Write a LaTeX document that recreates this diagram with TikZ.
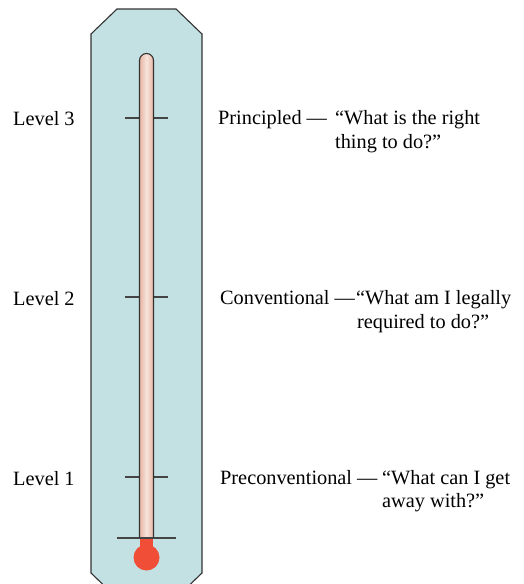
\documentclass[tikz,border=0pt]{standalone}
\usepackage{fontspec}
\setmainfont{Liberation Serif}
\definecolor{casebg}{HTML}{C3E0E3}
\definecolor{caseline}{HTML}{333333}
\definecolor{tubeedge}{HTML}{E8B5A2}
\definecolor{tubemid}{HTML}{F7E4DC}
\definecolor{bulbred}{HTML}{F04E37}
\definecolor{tickgray}{HTML}{444444}
\tikzset{
  lbl/.style={anchor=base west, inner sep=0pt, font=\fontsize{20.3}{24}\selectfont, text=black},
  tickline/.style={draw=tickgray, line width=1.2pt},
}
\begin{document}
\begin{tikzpicture}[x=1pt,y=-1pt]
\useasboundingbox (0,0) rectangle (523,584);
\begin{scope}
\clip (0,0) rectangle (523,584);
% case
\draw[fill=casebg, draw=caseline, line width=1.1pt]
  (117,9) -- (176,9) -- (202,34) -- (202,573) -- (176,598) -- (117,598) -- (91,573) -- (91,34) -- cycle;
\end{scope}
% ticks
\draw[tickline] (125,118) -- (168,118);
\draw[tickline] (125,297) -- (168,297);
\draw[tickline] (125,477) -- (168,477);
% red bulb
\fill[bulbred] (140,536) rectangle (153,550);
\fill[bulbred] (146.5,557.5) circle (13);
% tube
\shade[left color=tubeedge, right color=tubeedge, middle color=tubemid]
  (139.5,538) -- (139.5,60.5) arc[start angle=180, end angle=0, x radius=7, y radius=-7] -- (153.5,538) -- cycle;
\draw[draw=caseline, line width=1.1pt]
  (139.5,538) -- (139.5,60.5) arc[start angle=180, end angle=0, x radius=7, y radius=-7] -- (153.5,538);
% bottom line
\draw[tickline] (117,538) -- (176,538);
% level labels
\node[lbl] (l3) at (13,125) {Level 3};
\node[lbl] (l2) at (13,305) {Level 2};
\node[lbl] (l1) at (13,485) {Level 1};
% right texts
\node[lbl] (p3) at (218,124) {Principled —};
\node[lbl] (q3a) at (335,124) {“What is the right};
\node[lbl] (q3b) at (335,148) {thing to do?”};
\node[lbl] (p2) at (220,304) {Conventional —};
\node[lbl] (q2a) at (356,304) {“What am I legally};
\node[lbl] (q2b) at (357,328) {required to do?”};
\node[lbl] (p1) at (220,484) {Preconventional —};
\node[lbl] (q1a) at (382,484) {“What can I get};
\node[lbl] (q1b) at (382,507) {away with?”};
\end{tikzpicture}
\end{document}
